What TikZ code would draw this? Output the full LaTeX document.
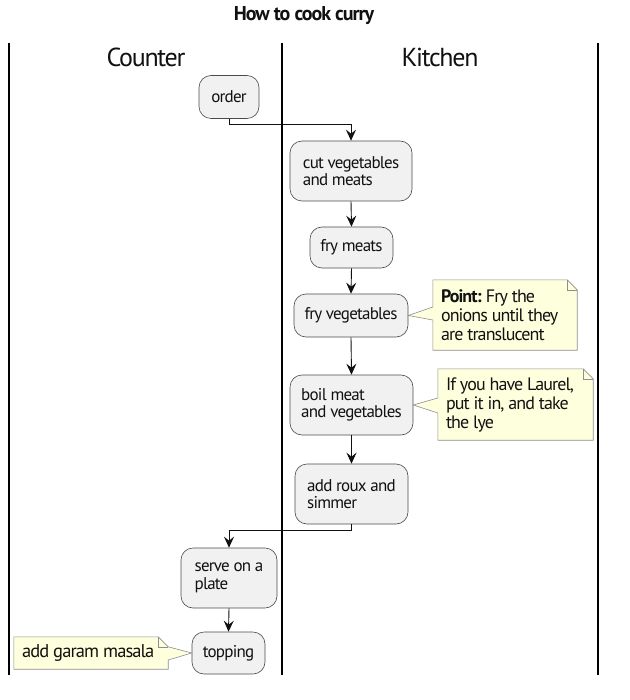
\documentclass[tikz,border=0pt]{standalone}
\usepackage{fontspec}
\setmainfont{PT Sans}
\newfontfamily\actfont[LetterSpace=-4.5]{PT Sans}
\newfontfamily\notefont[LetterSpace=-5]{PT Sans}
\newfontfamily\titlefont[LetterSpace=-5]{PT Sans}
\newfontfamily\lanefont[LetterSpace=-5]{PT Sans}
\usetikzlibrary{arrows.meta}
\definecolor{actfill}{HTML}{F1F1F1}
\definecolor{actline}{HTML}{4A4A4A}
\definecolor{notefill}{HTML}{FEFFDD}
\definecolor{noteline}{HTML}{8E8E8E}
\definecolor{txt}{HTML}{111111}
\tikzset{
  act/.style={draw=actline, fill=actfill, rounded corners=12pt, line width=0.6pt,
    inner sep=0pt, align=left, font=\actfont\fontsize{17}{17.5}\selectfont, text=txt},
  notebox/.style={inner sep=0pt, align=left, font=\notefont\fontsize{18}{19}\selectfont, text=txt},
  noteshape/.style={draw=noteline, fill=notefill, line width=0.6pt},
  flow/.style={draw=txt, line width=0.9pt, -{Stealth[length=11pt,width=10pt,inset=4pt]}},
  lane/.style={line width=1.8pt, draw=black},
}
\begin{document}
\begin{tikzpicture}[x=1pt,y=-1pt]
\useasboundingbox (0,0) rectangle (629,700);
% title and lanes
\node[font=\titlefont\bfseries\fontsize{20}{24}\selectfont, text=txt] (title) at (304,16) {How to cook curry};
\coordinate (l1t) at (9,43);   \coordinate (l1b) at (9,675);
\coordinate (l2t) at (282,43); \coordinate (l2b) at (282,675);
\coordinate (l3t) at (598,43); \coordinate (l3b) at (598,675);
\draw[lane] (l1t) -- (l1b);
\draw[lane] (l2t) -- (l2b);
\draw[lane] (l3t) -- (l3b);
\node[font=\lanefont\fontsize{26}{28}\selectfont, text=txt] (counter) at (146,57) {Counter};
\node[font=\lanefont\fontsize{26}{28}\selectfont, text=txt] (kitchen) at (440,57) {Kitchen};
% activities
\node[act, minimum width=60pt, minimum height=43pt] (order) at (229,97) {order};
\node[act, minimum width=122pt, minimum height=60pt] (cut) at (351,171) {cut vegetables\\and meats};
\node[act, minimum width=83pt, minimum height=41pt] (frymeats) at (351.5,247.5) {fry meats};
\node[act, minimum width=114pt, minimum height=43pt] (fryveg) at (351,315.5) {fry vegetables};
\node[act, minimum width=123pt, minimum height=60pt] (boil) at (351.5,405) {boil meat\\and vegetables};
\node[act, minimum width=113pt, minimum height=60pt] (roux) at (351.5,494) {add roux and\\simmer};
\node[act, minimum width=96pt, minimum height=60pt] (serve) at (229,578) {serve on a\\plate};
\node[act, minimum width=73pt, minimum height=42pt] (topping) at (228.5,653) {topping};
% flows
\draw[flow] (order.south) -- ++(0,6) -| (cut.north);
\draw[flow] (cut.south) -- (frymeats.north);
\draw[flow] (frymeats.south) -- (fryveg.north);
\draw[flow] (fryveg.south) -- (boil.north);
\draw[flow] (boil.south) -- (roux.north);
\draw[flow] (roux.south) -- ++(0,6) -| (serve.north);
\draw[flow] (serve.south) -- (topping.north);
% notes
\node[notebox, minimum width=144pt, minimum height=70pt] (point) at (505,315) {};
\draw[noteshape] (point.north west) -- ([xshift=-10pt]point.north east) -- ([yshift=-10pt]point.north east)
  -- (point.south east) -- (point.south west) -- ([yshift=-5pt]point.west) -- (fryveg.east)
  -- ([yshift=8pt]point.west) -- cycle;
\draw[noteshape, fill=none] ([xshift=-10pt]point.north east) -- ([xshift=-10pt,yshift=-10pt]point.north east) -- ([yshift=-10pt]point.north east);
\node[notebox, anchor=west] (pointtxt) at ([xshift=8pt]point.west) {\textbf{Point:} Fry the\\onions until they\\are translucent};

\node[notebox, minimum width=155pt, minimum height=71pt] (laurel) at (515.5,404.5) {};
\draw[noteshape] (laurel.north west) -- ([xshift=-10pt]laurel.north east) -- ([yshift=-10pt]laurel.north east)
  -- (laurel.south east) -- (laurel.south west) -- ([yshift=-8.5pt]laurel.west) -- (boil.east)
  -- ([yshift=6.5pt]laurel.west) -- cycle;
\draw[noteshape, fill=none] ([xshift=-10pt]laurel.north east) -- ([xshift=-10pt,yshift=-10pt]laurel.north east) -- ([yshift=-10pt]laurel.north east);
\node[notebox, anchor=west] (laureltxt) at ([xshift=8pt]laurel.west) {If you have Laurel,\\put it in, and take\\the lye};

\node[notebox, minimum width=154pt, minimum height=32pt] (garam) at (91,653) {};
\draw[noteshape] (garam.north west) -- ([xshift=-10pt]garam.north east) -- ([yshift=-10pt]garam.north east)
  -- (topping.west) -- ([yshift=-7pt]garam.east) -- (garam.south east) -- (garam.south west) -- cycle;
\draw[noteshape, fill=none] ([xshift=-10pt]garam.north east) -- ([xshift=-10pt,yshift=-10pt]garam.north east) -- ([yshift=-10pt]garam.north east);
\node[notebox, anchor=west, font=\notefont\fontsize{18.5}{19.5}\selectfont] (garamtxt) at ([xshift=8pt]garam.west) {add garam masala};
\end{tikzpicture}
\end{document}
